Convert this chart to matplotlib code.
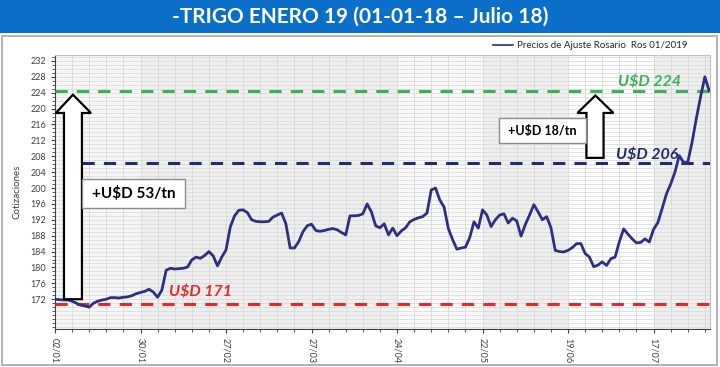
import matplotlib
matplotlib.use("Agg")
import matplotlib.pyplot as plt
from matplotlib.patches import Rectangle, Polygon
from matplotlib.ticker import MultipleLocator

# ---------------- data ----------------
tick_labels = ["02/01", "30/01", "27/02", "27/03", "24/04", "22/05", "19/06", "17/07"]
tick_positions = [0, 20, 40, 60, 80, 100, 120, 140]

prices = [
    172.0, 171.9, 171.8, 171.8, 171.5, 171.0, 170.5, 170.3, 170.0, 171.0,
    171.5, 171.8, 172.0, 172.4, 172.4, 172.3, 172.5, 172.6, 172.9, 173.4,
    173.7, 174.0, 174.5, 173.8, 172.5, 174.3, 179.3, 179.8, 179.6, 179.7,
    179.8, 180.1, 181.9, 182.6, 182.3, 183.0, 184.0, 182.9, 180.4, 182.6,
    184.4, 190.2, 193.0, 194.4, 194.5, 193.8, 192.0, 191.6, 191.5, 191.5,
    191.6, 192.7, 193.2, 193.7, 191.0, 184.9, 184.9, 186.5, 189.0, 190.5,
    190.9, 189.3, 189.1, 189.3, 189.6, 189.8, 189.5, 188.8, 188.2, 193.0,
    193.0, 193.1, 193.5, 196.0, 194.0, 190.5, 190.0, 191.0, 188.2, 189.9,
    188.0, 189.2, 190.0, 191.5, 192.1, 192.5, 192.8, 193.7, 199.5, 200.0,
    197.0, 195.2, 189.8, 187.0, 184.6, 184.9, 185.1, 187.5, 191.5, 189.9,
    194.5, 193.2, 190.3, 192.0, 193.2, 193.5, 191.2, 192.4, 191.7, 187.9,
    190.8, 193.2, 195.8, 194.0, 192.0, 192.8, 190.0, 184.3, 184.0, 183.9,
    184.3, 185.0, 186.0, 186.0, 183.5, 182.6, 180.2, 180.6, 181.4, 180.5,
    182.2, 182.6, 186.5, 189.7, 188.4, 187.2, 186.2, 186.3, 187.2, 186.4,
    189.6, 191.3, 194.8, 198.5, 201.0, 204.0, 208.2, 206.5, 206.5, 211.5,
    217.5, 223.0, 228.0, 224.5,
]
level_high = 224.5
level_mid = 206.2
level_low = 170.8

title = "-TRIGO ENERO 19 (01-01-18 \u2013 Julio 18)"
legend_label = "Precios de Ajuste Rosario  Ros 01/2019"

FONT = ["Lato", "DejaVu Sans"]
plt.rcParams["font.family"] = FONT

fig = plt.figure(figsize=(7.2, 3.67), dpi=100)
W, H = 720, 367

def fx(px):
    return px / W

def fy(py):
    return 1 - py / H

# title band
fig.patches.append(Rectangle((0, fy(33)), 1, 33 / H, transform=fig.transFigure,
                             facecolor="#0b6fc9", edgecolor="none", zorder=0))
fig.text(0.5, fy(17), title, color="white", fontsize=15, fontweight="bold",
         ha="center", va="center")
# chart border
fig.patches.append(Rectangle((fx(2), fy(365)), fx(715), (365 - 36) / H,
                             transform=fig.transFigure, facecolor="none",
                             edgecolor="#a6a6a6", linewidth=1.2, zorder=0))

ax = fig.add_axes([fx(55), fy(329), fx(655), (329 - 55) / H])
ax.set_zorder(3)
x = list(range(len(prices)))

ax.set_facecolor("#eeeeee")
# lighter background bands
for a, b, al in [(0, 20, 0.5), (80, 100, 0.7), (120, 140, 0.9)]:
    ax.axvspan(a, b, color="white", alpha=al, lw=0, zorder=0)

ax.set_xlim(0, 153.2)
ax.set_ylim(164.5, 233.5)

ax.set_yticks(list(range(172, 233, 4)))
ax.yaxis.set_minor_locator(MultipleLocator(1))
ax.set_xticks(tick_positions)
ax.set_xticklabels(tick_labels, rotation=-90, fontsize=6.5, color="#404040")
ax.xaxis.set_minor_locator(MultipleLocator(4))
ax.tick_params(axis="y", labelsize=6.5, colors="#404040", length=3)
ax.tick_params(axis="x", length=3, colors="#404040")
ax.tick_params(which="minor", length=2, colors="#404040")
ax.grid(which="minor", axis="y", color="#dcdcdc", lw=0.6, zorder=1)
ax.grid(which="major", axis="y", color="#dcdcdc", lw=0.6, zorder=1)
ax.grid(which="both", axis="x", color="#d6d6d6", lw=0.6, zorder=1)
ax.set_axisbelow(True)
for s in ["top", "right"]:
    ax.spines[s].set_color("#bfbfbf")
ax.spines["left"].set_color("#404040")
ax.spines["bottom"].set_color("#404040")

ax.set_ylabel("Cotizaciones", fontsize=7, color="#404040", labelpad=6)

# reference levels
ax.axhline(level_high, color="#38b254", lw=2.2, ls=(0, (4, 3)), zorder=3)
ax.plot([6.3, 153.2], [level_mid, level_mid], color="#1f2d6a", lw=2.2,
        ls=(0, (4, 3)), zorder=3)
ax.axhline(level_low, color="#e02b2b", lw=2.2, ls=(0, (4, 3)), zorder=3)

# price line
line, = ax.plot(x, prices, color="#2e2f80", lw=2, zorder=4)

# legend
fig.lines.append(plt.Line2D([fx(493), fx(513)], [fy(45), fy(45)],
                            transform=fig.transFigure, color="#2e2f80", lw=1.2))
fig.text(fx(517), fy(45), legend_label, fontsize=7, color="#262626",
         ha="left", va="center")

# level labels
ax.text(139, level_high + 0.3, "U$D 224", color="#38b254", fontsize=11.5,
        fontweight="bold", style="italic", ha="center", va="bottom", zorder=5)
ax.text(138.4, level_mid + 0.3, "U$D 206", color="#1f2d6a", fontsize=11.5,
        fontweight="bold", style="italic", ha="center", va="bottom", zorder=5)
ax.text(34, level_low + 1.2, "U$D 171", color="#e02b2b", fontsize=11.5,
        fontweight="bold", style="italic", ha="center", va="bottom", zorder=5)

# block arrows
def block_arrow(x0, x1, hx0, hx1, tipx, ybase, yhead, ytip):
    pts = [(x0, ybase), (x1, ybase), (x1, yhead), (hx1, yhead), (tipx, ytip),
           (hx0, yhead), (x0, yhead)]
    ax.add_patch(Polygon(pts, closed=True, facecolor="white", edgecolor="black",
                         lw=1.6, zorder=6, clip_on=False))

block_arrow(2.1, 6.3, 0.2, 8.4, 4.2, 172.0, 218.9, 223.5)
block_arrow(124.3, 128.3, 122.2, 130.6, 126.4, 207.6, 218.9, 223.3)

# text boxes
ax.add_patch(Rectangle((6.4, 195.0), 24.0, 7.3, facecolor="white",
                       edgecolor="#8c8c8c", lw=1.0, zorder=6))
ax.text(18.4, 198.65, "+U$D 53/tn", fontsize=11, fontweight="bold",
        color="black", ha="center", va="center", zorder=7)
ax.add_patch(Rectangle((103.8, 211.3), 20.5, 6.3, facecolor="white",
                       edgecolor="#8c8c8c", lw=1.0, zorder=6))
ax.text(114.0, 214.45, "+U$D 18/tn", fontsize=9, fontweight="bold",
        color="black", ha="center", va="center", zorder=7)

fig.savefig("out.png", dpi=100)
